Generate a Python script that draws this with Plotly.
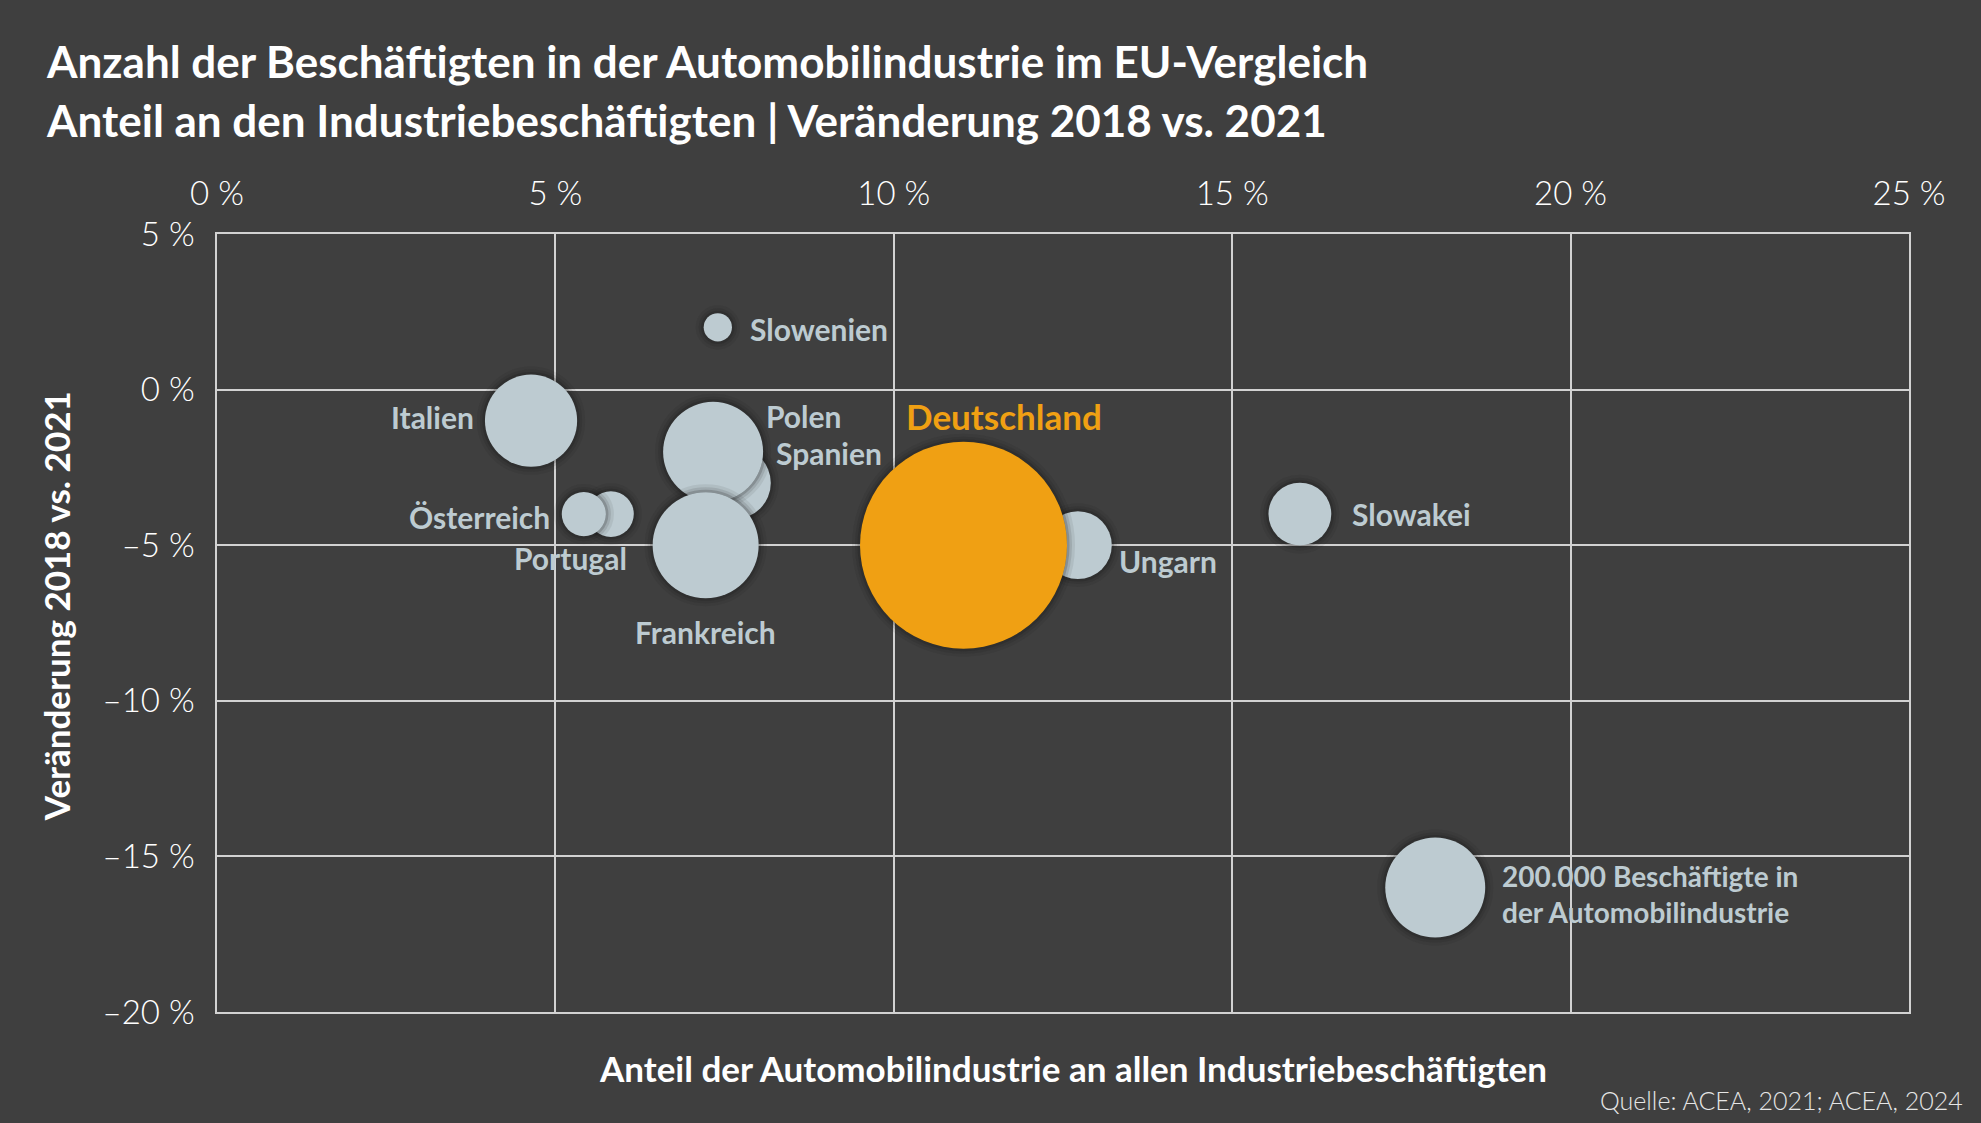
import plotly.graph_objects as go

# --- Daten ---
# Reihenfolge = Zeichenreihenfolge (spätere Punkte liegen oben)
laender = ["Spanien", "Polen", "Frankreich", "Portugal", "Österreich", "Ungarn",
           "Deutschland", "Italien", "Slowenien", "Slowakei", "Legende"]
anteil = [7.65, 7.33, 7.22, 5.82, 5.42, 12.72, 11.03, 4.64, 7.40, 16.0, 18.0]          # % an Industriebeschäftigten
veraenderung = [-3.0, -2.0, -5.0, -4.0, -4.0, -5.0, -5.0, -1.0, 2.0, -4.0, -16.0]      # % 2018 vs. 2021
beschaeftigte = [104000, 200000, 225000, 42000, 39000, 92000, 857000, 170000, 16000, 79000, 200000]

label_text = {
    "Spanien": "Spanien", "Polen": "Polen", "Frankreich": "Frankreich",
    "Portugal": "Portugal", "Österreich": "Österreich", "Ungarn": "Ungarn",
    "Deutschland": "Deutschland", "Italien": "Italien", "Slowenien": "Slowenien",
    "Slowakei": "Slowakei",
    "Legende": "200.000 Beschäftigte in<br>der Automobilindustrie",
}

x_ticks = [0, 5, 10, 15, 20, 25]
x_ticktext = ["0 %", "5 %", "10 %", "15 %", "20 %", "25 %"]
y_ticks = [5, 0, -5, -10, -15, -20]
y_ticktext = ["5 %", "0 %", "–5 %", "–10 %", "–15 %", "–20 %"]

# --- Stil ---
BG = "#3f3f3f"
GRID = "#d2d2d2"
BLASS = "#bdcbd1"
ORANGE = "#f0a013"
FONT = "Lato"
SIZEREF = 2 * 200000 / 100 ** 2   # 200.000 Beschäftigte -> 100 px Durchmesser

# Label-Versatz in Pixel relativ zum Blasenmittelpunkt, Schriftgröße
label_pos = {
    "Spanien": (39, 30, "left", 30), "Polen": (51, 36, "left", 30),
    "Frankreich": (0, -87, "center", 30), "Portugal": (18, -44, "right", 30),
    "Österreich": (-32, -3, "right", 30), "Ungarn": (39, -16, "left", 30),
    "Deutschland": (-60, 129, "left", 35), "Italien": (-55, 4, "right", 30),
    "Slowenien": (30, -2, "left", 30), "Slowakei": (50, 0, "left", 30),
    "Legende": (65, -6, "left", 28),
}

fig = go.Figure()

for i, land in enumerate(laender):
    farbe = ORANGE if land == "Deutschland" else BLASS
    # weicher Schatten
    for lw, alpha in [(16, 0.10), (10, 0.15), (5, 0.25)]:
        fig.add_trace(go.Scatter(
            x=[anteil[i]], y=[veraenderung[i]], mode="markers",
            marker=dict(size=[beschaeftigte[i]], sizemode="area", sizeref=SIZEREF,
                        color=f"rgba(20,20,20,{alpha})",
                        line=dict(width=lw, color=f"rgba(20,20,20,{alpha})")),
            hoverinfo="skip", showlegend=False))
    fig.add_trace(go.Scatter(
        x=[anteil[i]], y=[veraenderung[i]], mode="markers", name=land,
        marker=dict(size=[beschaeftigte[i]], sizemode="area", sizeref=SIZEREF,
                    color=farbe, opacity=1, line=dict(width=0)),
        showlegend=False))

    dx, dy, anker, fs = label_pos[land]
    fig.add_annotation(
        x=anteil[i], y=veraenderung[i], text=f"<b>{label_text[land]}</b>",
        showarrow=False, xanchor=anker, yanchor="middle", xshift=dx, yshift=dy,
        align="left",
        font=dict(family=FONT, size=fs,
                  color=ORANGE if land == "Deutschland" else BLASS))

# Titel, Achsentitel, Quelle
fig.add_annotation(x=-0.1023, y=1.2224, xref="paper", yref="paper", xanchor="left", yanchor="middle",
                   text="<b>Anzahl der Beschäftigten in der Automobilindustrie im EU-Vergleich</b>",
                   showarrow=False, font=dict(family=FONT, size=44, color="white"))
fig.add_annotation(x=-0.1023, y=1.1465, xref="paper", yref="paper", xanchor="left", yanchor="middle",
                   text="<b>Anteil an den Industriebeschäftigten | Veränderung 2018 vs. 2021</b>",
                   showarrow=False, font=dict(family=FONT, size=44, color="white"))
fig.add_annotation(x=0.506, y=-0.072, xref="paper", yref="paper", xanchor="center", yanchor="middle",
                   text="<b>Anteil der Automobilindustrie an allen Industriebeschäftigten</b>",
                   showarrow=False, font=dict(family=FONT, size=35, color="white"))
fig.add_annotation(x=-0.095, y=0.522, xref="paper", yref="paper", xanchor="center", yanchor="middle",
                   text="<b>Veränderung 2018 vs. 2021</b>", textangle=-90,
                   showarrow=False, font=dict(family=FONT, size=35, color="white"))
fig.add_annotation(x=1.033, y=-0.113, xref="paper", yref="paper", xanchor="right", yanchor="middle",
                   text="Quelle: ACEA, 2021; ACEA, 2024",
                   showarrow=False, font=dict(family=FONT, size=25, color="#e6e6e6", weight=300))

fig.update_layout(
    width=1981, height=1123,
    paper_bgcolor=BG, plot_bgcolor=BG,
    margin=dict(l=217, r=72, t=234, b=111),
    font=dict(family=FONT, color="white"),
)
fig.update_xaxes(
    range=[0, 25], side="top", tickvals=x_ticks, ticktext=x_ticktext,
    showgrid=True, gridcolor=GRID, gridwidth=1.5, zeroline=False,
    showline=True, linecolor=GRID, linewidth=1.5, mirror=True,
    ticks="", ticklabelstandoff=14,
    tickfont=dict(family=FONT, size=33, color="white", weight=300),
)
fig.update_yaxes(
    range=[-20, 5], tickvals=y_ticks, ticktext=y_ticktext,
    showgrid=True, gridcolor=GRID, gridwidth=1.5, zeroline=False,
    showline=True, linecolor=GRID, linewidth=1.5, mirror=True,
    ticks="", ticklabelstandoff=14,
    tickfont=dict(family=FONT, size=33, color="white", weight=300),
)

fig.write_html("out.html", config={"displayModeBar": False},
               post_script="document.body.style.margin='0';document.body.style.overflow='hidden';")
